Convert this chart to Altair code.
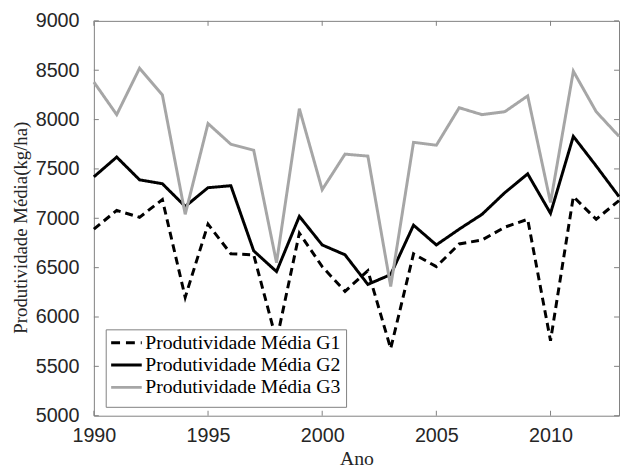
import altair as alt
import pandas as pd

years = list(range(1990, 2014))
g1 = [6890, 7080, 7010, 7190, 6200, 6940, 6640, 6630, 5760, 6850, 6510, 6260,
      6470, 5680, 6640, 6510, 6740, 6780, 6910, 6990, 5760, 7220, 6990, 7180]
g2 = [7420, 7620, 7390, 7350, 7120, 7310, 7330, 6670, 6460, 7020, 6730, 6630,
      6330, 6430, 6930, 6730, 6890, 7040, 7260, 7450, 7050, 7830, 7530, 7220]
g3 = [8380, 8050, 8520, 8250, 7040, 7960, 7750, 7690, 6550, 8110, 7290, 7650,
      7630, 6310, 7770, 7740, 8120, 8050, 8080, 8240, 7160, 8490, 8080, 7830]
names = ["Produtividade Média G1", "Produtividade Média G2", "Produtividade Média G3"]
colors = ["black", "black", "#a6a6a6"]
dashes = [[8, 5], [1, 0], [1, 0]]
xticks = [1990, 1995, 2000, 2005, 2010]
yticks = [5000, 5500, 6000, 6500, 7000, 7500, 8000, 8500, 9000]

rows = []
for name, vals in zip(names, [g1, g2, g3]):
    for yr, v in zip(years, vals):
        rows.append({"Ano": yr, "valor": v, "serie": name})
df = pd.DataFrame(rows)

SERIF = "Liberation Serif, DejaVu Serif, serif"
W, H = 532, 400
xs = alt.Scale(domain=[1990, 2013], nice=False, zero=False)
ys = alt.Scale(domain=[5000, 9000], nice=False, zero=False)

lines = alt.Chart(df).mark_line(strokeWidth=3).encode(
    x=alt.X("Ano:Q", scale=xs, title="Ano",
            axis=alt.Axis(values=xticks, format="d", ticks=False, domain=False, grid=False,
                          labelFlush=False, labelPadding=10, labelFont="Liberation Sans",
                          labelFontSize=20, labelColor="#262626", titleFont=SERIF,
                          titleFontSize=20, titleFontWeight="normal", titleColor="#262626",
                          titlePadding=3)),
    y=alt.Y("valor:Q", scale=ys, title="Produtividade Média(kg/ha)",
            axis=alt.Axis(values=yticks, format="d", ticks=False, domain=False, grid=False,
                          labelFlush=False, labelPadding=15, labelFont="Liberation Sans",
                          labelFontSize=20, labelColor="#262626", titleFont=SERIF,
                          titleFontSize=19, titleFontWeight="normal", titleColor="#262626",
                          titleX=-64, titleY=209, titleAlign="center")),
    color=alt.Color("serie:N", scale=alt.Scale(domain=names, range=colors), legend=None),
    strokeDash=alt.StrokeDash("serie:N", scale=alt.Scale(domain=names, range=dashes), legend=None),
    order=alt.Order("Ano:Q"),
)

tick_col = "#808080"
ydf = pd.DataFrame({"t": yticks})
xdf = pd.DataFrame({"t": xticks})
lt = alt.Chart(ydf).mark_rule(color=tick_col).encode(y=alt.Y("t:Q", scale=ys), x=alt.value(0), x2=alt.value(5))
rt = alt.Chart(ydf).mark_rule(color=tick_col).encode(y=alt.Y("t:Q", scale=ys), x=alt.value(W - 5), x2=alt.value(W))
bt = alt.Chart(xdf).mark_rule(color=tick_col).encode(x=alt.X("t:Q", scale=xs), y=alt.value(H - 5), y2=alt.value(H))
tt = alt.Chart(xdf).mark_rule(color=tick_col).encode(x=alt.X("t:Q", scale=xs), y=alt.value(0), y2=alt.value(5))

# legend (drawn as decoration on top of the lines)
box = alt.Chart(pd.DataFrame({"k": [0]})).mark_rect(fill="white", stroke=tick_col, strokeWidth=1).encode(
    x=alt.value(12.5), x2=alt.value(256), y=alt.value(313), y2=alt.value(391.5))
leg_layers = [box]
row_y = [326, 348.7, 371.3]
leg_dash = [[9, 6], [1, 0], [1, 0]]
for name, col, dsh, yy in zip(names, colors, leg_dash, row_y):
    d = pd.DataFrame({"serie": [name]})
    leg_layers.append(alt.Chart(d).mark_rule(color=col, strokeWidth=3, strokeDash=dsh).encode(
        x=alt.value(17.5), x2=alt.value(48.5), y=alt.value(yy)))
    leg_layers.append(alt.Chart(d).mark_text(font=SERIF, fontSize=20, color="black", align="left",
                                             baseline="middle").encode(
        x=alt.value(52), y=alt.value(yy), text="serie:N"))

chart = alt.layer(lt, rt, bt, tt, lines, *leg_layers).properties(
    width=W, height=H,
    autosize=alt.AutoSizeParams(type="none"),
    padding={"left": 87, "top": 10, "right": 1, "bottom": 55},
).configure_view(stroke=tick_col, strokeWidth=1).configure_axis(labelFontWeight="normal")

chart.save("out.html", embed_options={"renderer": "svg", "actions": False})
